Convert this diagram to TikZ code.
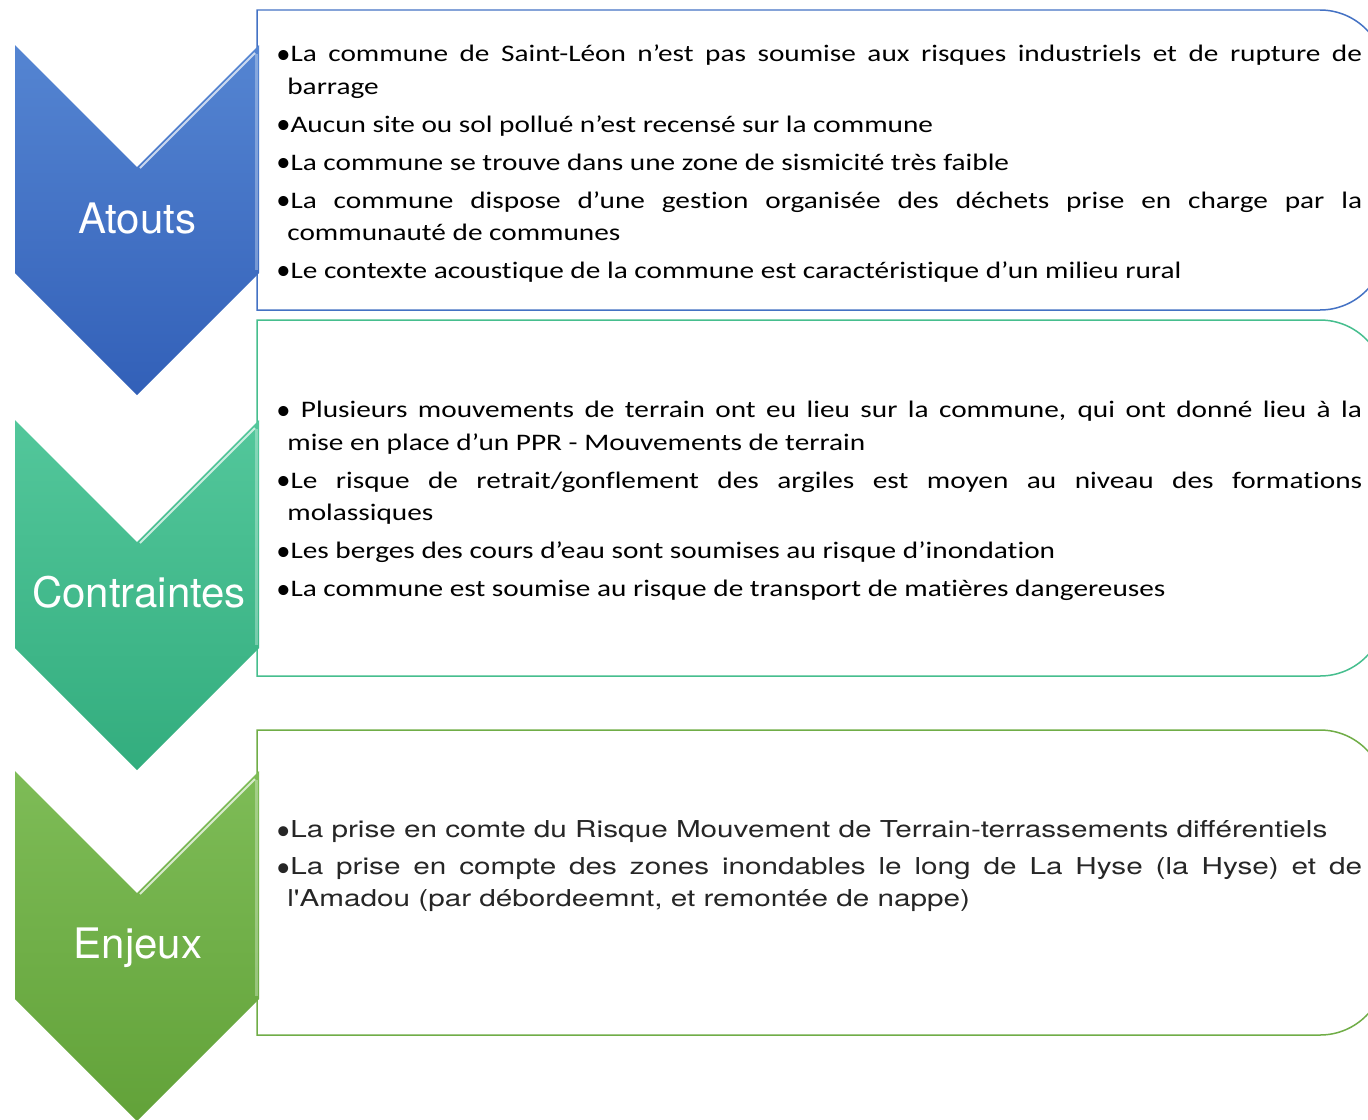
\documentclass[tikz,border=0pt]{standalone}
\usepackage{fontspec}
\setmainfont{Carlito}[FakeStretch=1.235, Ligatures=NoCommon]
\newfontfamily\enjeuxfont{TeX Gyre Heros}[FakeStretch=1.275]
\newfontfamily\chevfont{TeX Gyre Heros}
\usetikzlibrary{positioning,calc}
\definecolor{swBlue}{HTML}{4472C4}
\definecolor{swBlueTop}{HTML}{5585D2}
\definecolor{swBlueBot}{HTML}{3260B8}
\definecolor{swTeal}{HTML}{46BE8E}
\definecolor{swTealTop}{HTML}{53C79B}
\definecolor{swTealBot}{HTML}{33AD7E}
\definecolor{swGreen}{HTML}{70AD47}
\definecolor{swGreenTop}{HTML}{7EBC57}
\definecolor{swGreenBot}{HTML}{62A239}
\definecolor{swText}{HTML}{262626}
\newcommand{\bitem}{\par\hangindent=0.22cm\hangafter=1\noindent
  {\fontspec{Carlito}\raisebox{-0.05em}{\scalebox{1.2}{•}}}}
\tikzset{
  chevron/.style={draw=none},
  bevel/.style={white, opacity=0.7, line width=0.04cm},
  bevelside/.style={white, opacity=0.3, line width=0.06cm},
  chevlabel/.style={font=\chevfont\fontsize{23.9pt}{28pt}\selectfont, text=white, anchor=base, inner sep=0pt},
  infobox/.style={fill=white, line width=0.03cm},
  infotext/.style={
    anchor=base west, inner sep=0pt, text width=21.72cm, align=justify,
    font=\fontsize{13.5pt}{18.5pt}\selectfont,
    execute at begin node={\setlength{\parskip}{3.1pt}\hyphenpenalty=10000 \exhyphenpenalty=10000}
  },
  enjeuxtext/.style={
    infotext, text=swText,
    font=\enjeuxfont\fontsize{13.25pt}{18.2pt}\selectfont,
    execute at begin node={\setlength{\parskip}{2.85pt}\hyphenpenalty=10000 \exhyphenpenalty=10000}
  }
}
\begin{document}
\begin{tikzpicture}[x=0.02cm, y=-0.02cm]
  \useasboundingbox (0,0) rectangle (1368,1119);
  % boxes
  \draw[infobox, draw=swBlue] (257,310) -- (257,10) -- (1320,10)
    arc[start angle=-90, end angle=0, radius=65] -- (1385,245)
    arc[start angle=0, end angle=90, radius=65] -- cycle;
  \draw[infobox, draw=swTeal] (257,676) -- (257,320) -- (1320,320)
    arc[start angle=-90, end angle=0, radius=65] -- (1385,611)
    arc[start angle=0, end angle=90, radius=65] -- cycle;
  \draw[infobox, draw=swGreen] (257,1035) -- (257,730) -- (1320,730)
    arc[start angle=-90, end angle=0, radius=65] -- (1385,970)
    arc[start angle=0, end angle=90, radius=65] -- cycle;
  % chevrons
  \path[chevron, top color=swBlueTop, bottom color=swBlueBot]
    (15,45) -- (137,167) -- (259,45) -- (259,273) -- (137,395) -- (15,273) -- cycle;
  \draw[bevel] (140,168) -- (255,53);
  \draw[bevelside] (256,54) -- (256,270);
  \path[chevron, top color=swTealTop, bottom color=swTealBot]
    (15,420) -- (137,542) -- (259,420) -- (259,648) -- (137,770) -- (15,648) -- cycle;
  \draw[bevel] (140,543) -- (255,428);
  \draw[bevelside] (256,429) -- (256,645);
  \path[chevron, top color=swGreenTop, bottom color=swGreenBot]
    (15,771) -- (137,893) -- (259,771) -- (259,999) -- (137,1121) -- (15,999) -- cycle;
  \draw[bevel] (140,894) -- (255,779);
  \draw[bevelside] (256,780) -- (256,996);
  \node[chevlabel] (atouts) at (137,233) {Atouts};
  \node[chevlabel] (contraintes) at (139,607) {Contraintes};
  \node[chevlabel] (enjeux) at (138,958) {Enjeux};
  % texts
  \node[infotext] (atoutstxt) at (276,24) {%
    \bitem La commune de Saint-Léon n’est pas soumise aux risques industriels et de rupture de \linebreak barrage
    \bitem Aucun site ou sol pollué n’est recensé sur la commune
    \bitem La commune se trouve dans une zone de sismicité très faible
    \bitem La commune dispose d’une gestion organisée des déchets prise en charge par la \linebreak communauté de communes
    \bitem Le contexte acoustique de la commune est caractéristique d’un milieu rural\par};
  \node[infotext] (contraintestxt) at (276,380) {%
    \bitem\ Plusieurs mouvements de terrain ont eu lieu sur la commune, qui ont donné lieu à la \linebreak mise en place d’un PPR - Mouvements de terrain
    \bitem Le risque de retrait/gonflement des argiles est moyen au niveau des formations \linebreak molassiques
    \bitem Les berges des cours d’eau sont soumises au risque d’inondation
    \bitem La commune est soumise au risque de transport de matières dangereuses\par};
  \node[enjeuxtext] (enjeuxtxt) at (276,801) {%
    \bitem La prise en comte du Risque Mouvement de Terrain-terrassements différentiels
    \bitem La prise en compte des zones inondables le long de La Hyse (la Hyse) et de \linebreak l{\char"0027}Amadou (par débordeemnt, et remontée de nappe)\par};
\end{tikzpicture}
\end{document}
